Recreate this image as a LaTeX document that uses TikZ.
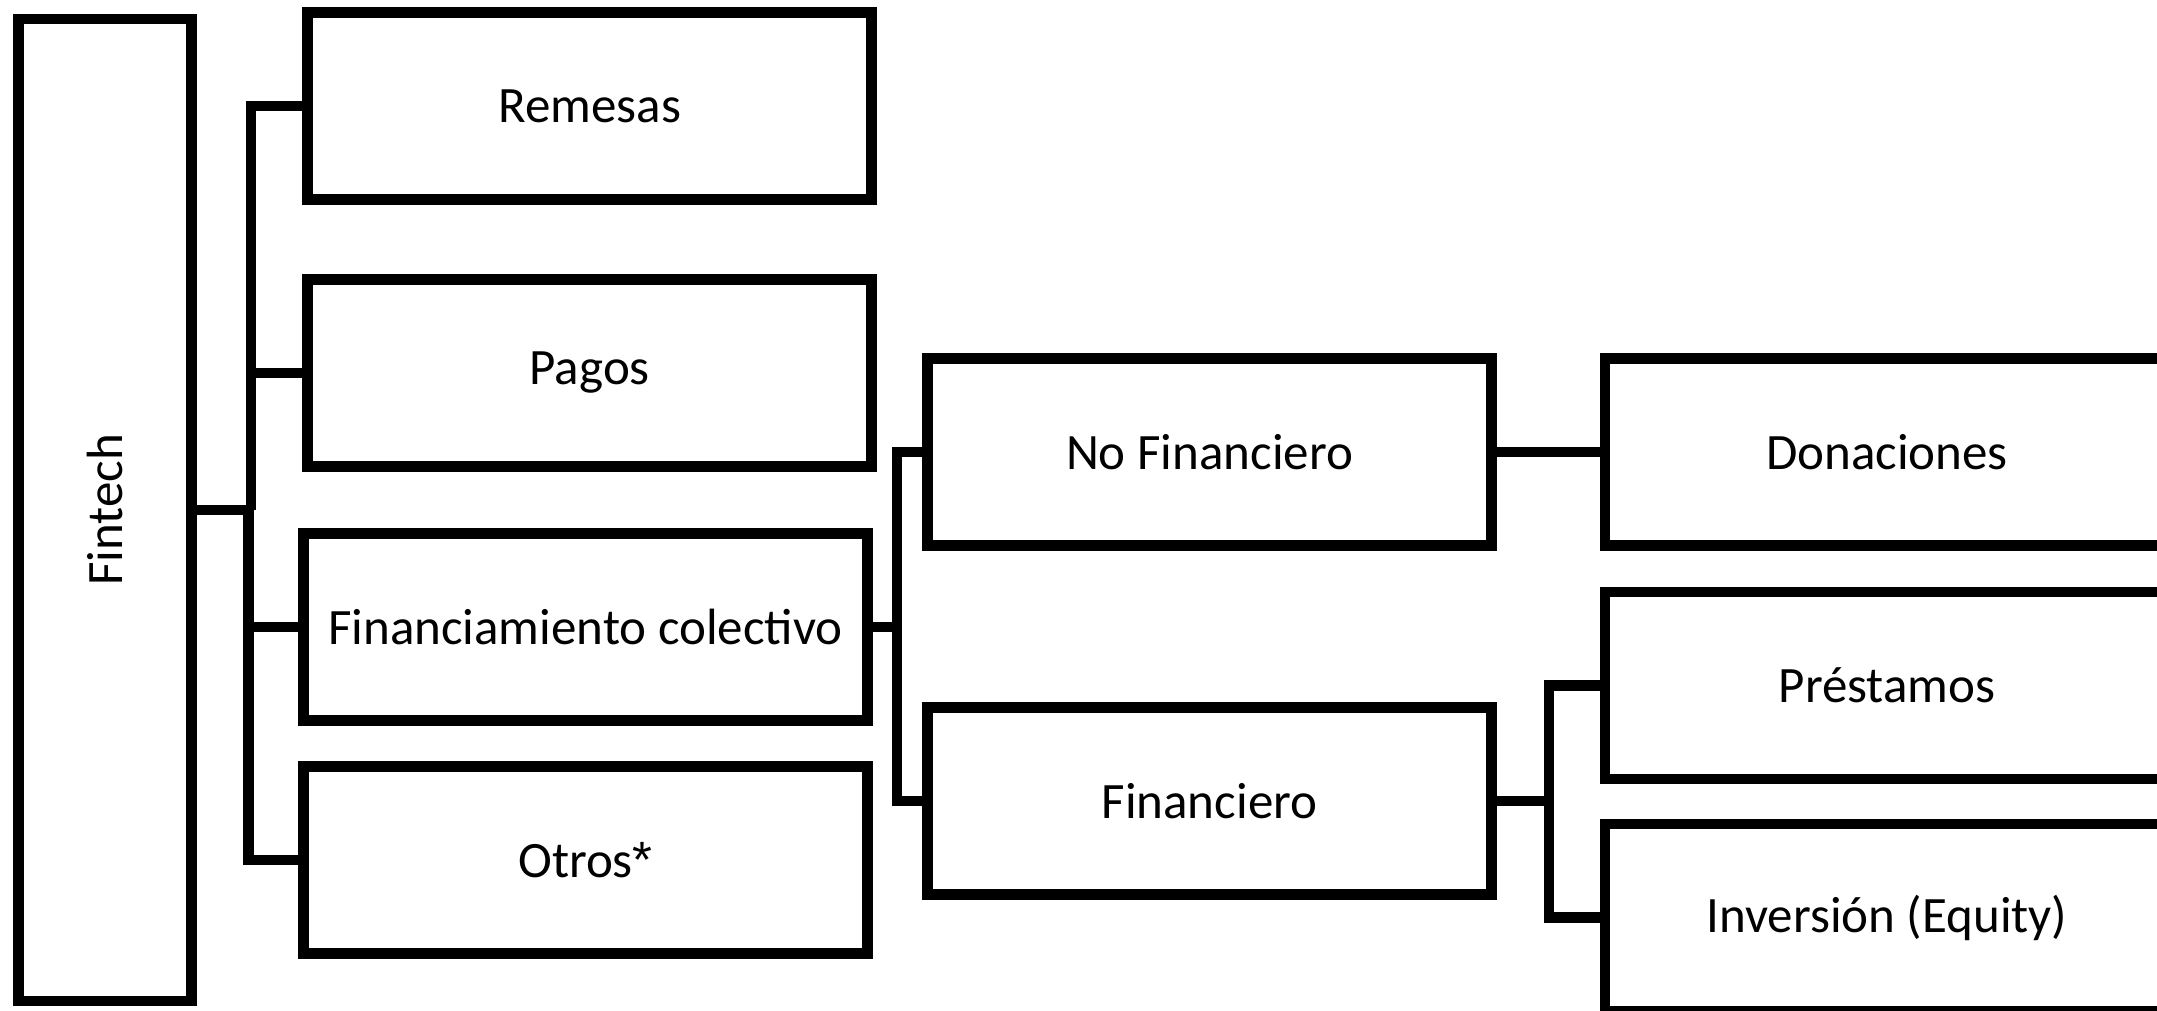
\documentclass[tikz,border=0pt]{standalone}
\usepackage{fontspec}
\setmainfont{Carlito}
\newfontfamily\astfont{Liberation Sans}
\begin{document}
\begin{tikzpicture}[x=1pt,y=-1pt,
  lw/.style={line width=10.5pt},
  txt/.style={font=\fontsize{51}{60}\selectfont},
  box/.style={draw, lw, txt, minimum width=564pt, minimum height=187pt, inner sep=0pt},
  conn/.style={lw}]
\useasboundingbox[fill=white] (0,0) rectangle (2157,1011);
% nodes
\node[draw, lw, minimum width=173pt, minimum height=981.5pt, inner sep=0pt,
  label={[rotate=90,txt]center:Fintech}] (fintech) at (105,510) {};
\node[box] (remesas) at (589.7,106.2) {Remesas};
\node[box] (pagos) at (589.7,373) {Pagos};
\node[box] (fincol) at (585.5,627) {Financiamiento colectivo};
\node[box] (otros) at (585.5,860) {Otros{\astfont *}};
\node[box] (nofin) at (1209.5,452) {No Financiero};
\node[box] (fin) at (1209.5,801) {Financiero};
\node[box] (don) at (1887,452) {Donaciones};
\node[box] (pre) at (1887,685.4) {Préstamos};
\node[box] (inv) at (1887,917.5) {Inversión (Equity)};
% junctions
\coordinate (j1) at (251,510);
\coordinate (j1b) at (248.5,510);
\coordinate (j2) at (897,627);
\coordinate (j3) at (1549,801);
% connectors
\draw[conn] (fintech.east) -- (j1);
\draw[conn] (remesas.west) -| (j1);
\draw[conn] (pagos.west) -| (j1);
\draw[conn] (fincol.west) -| (j1b);
\draw[conn] (otros.west) -| (j1b);
\draw[conn] (fincol.east) -- (j2);
\draw[conn] (nofin.west) -| (j2);
\draw[conn] (fin.west) -| (j2);
\draw[conn] (nofin.east) -- (don.west);
\draw[conn] (fin.east) -- (j3);
\draw[conn] (pre.west) -| (j3);
\draw[conn] (inv.west) -| (j3);
\end{tikzpicture}
\end{document}
